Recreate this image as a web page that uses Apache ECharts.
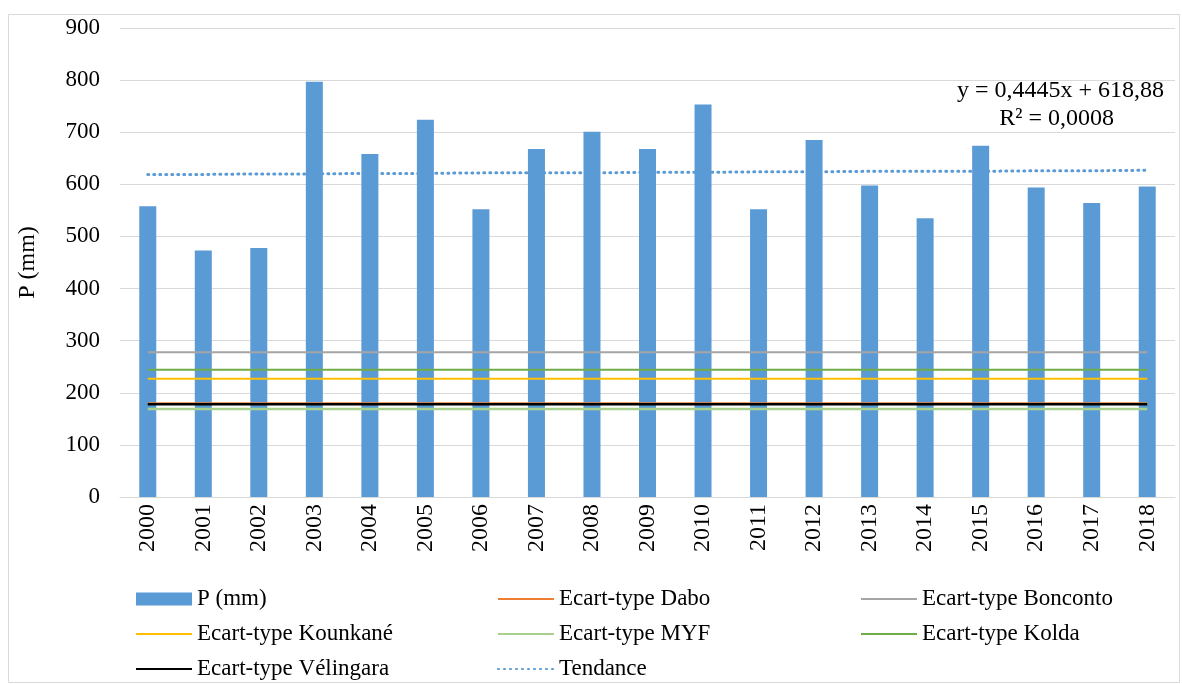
<!DOCTYPE html>
<html>
<head>
<meta charset="utf-8">
<script src="https://cdn.jsdelivr.net/npm/echarts@6/dist/echarts.min.js"></script>
<style>
  html, body { margin: 0; padding: 0; background: #fff; }
  #chart { width: 1182px; height: 684px; }
</style>
</head>
<body>
<div id="chart"></div>
<script>
// annees
var years = ['2000','2001','2002','2003','2004','2005','2006','2007','2008','2009',
             '2010','2011','2012','2013','2014','2015','2016','2017','2018'];
// pluie annuelle (mm)
var rainfall = [558, 473, 478, 797, 658, 724, 552, 668, 701, 668,
                753, 552, 685, 598, 535, 674, 594, 564, 596];
// ecarts-types par station
var sdDabo = 180;
var sdBonconto = 278;
var sdKounkane = 227;
var sdMYF = 169;
var sdKolda = 244;
var sdVelingara = 178;
// tendance
var trend = [619, 619, 620, 620, 621, 621, 622, 622, 622, 623,
             623, 624, 624, 625, 625, 625, 626, 626, 627];
var yTicks = { min: 0, max: 900, interval: 100 };

var font = 'Liberation Serif';
var chart = echarts.init(document.getElementById('chart'));

function flat(v) {
	var out = [];
	for (var i = 0; i < years.length; i++) out.push(v);
	return out;
}
function hline(name, v, color, width) {
	return {
		name: name,
		type: 'line',
		data: flat(v),
		symbol: 'none',
		lineStyle: { color: color, width: width },
		itemStyle: { color: color },
		silent: true
	};
}
// entree de legende sans symbole (ligne seule)
function lineItem(name) {
	return { name: name, itemStyle: { opacity: 0 } };
}

var legendBase = {
	orient: 'vertical',
	top: 582,
	height: 110,
	itemWidth: 56,
	itemHeight: 13,
	itemGap: 11,
	textStyle: { fontFamily: font, fontSize: 23, lineHeight: 24, color: '#000' }
};

var option = {
	backgroundColor: '#fff',
	animation: false,
	graphic: [
		{ type: 'rect', shape: { x: 8.5, y: 14.5, width: 1171, height: 668 },
		  style: { fill: 'none', stroke: '#d9d9d9', lineWidth: 1 }, silent: true },
		{ type: 'text', right: 18, top: 79,
		  style: { text: 'y = 0,4445x + 618,88', font: '24px ' + font, fill: '#000' } },
		{ type: 'text', right: 68, top: 107,
		  style: { text: 'R² = 0,0008', font: '24px ' + font, fill: '#000' } }
	],
	grid: { left: 120, right: 7, top: 28, bottom: 187 },
	legend: [
		Object.assign({}, legendBase, { left: 130,
			data: [{ name: 'P (mm)', icon: 'rect' }, lineItem('Ecart-type Kounkané'), lineItem('Ecart-type Vélingara')] }),
		Object.assign({}, legendBase, { left: 492,
			data: [lineItem('Ecart-type Dabo'), lineItem('Ecart-type MYF'), lineItem('Tendance')] }),
		Object.assign({}, legendBase, { left: 855,
			data: [lineItem('Ecart-type Bonconto'), lineItem('Ecart-type Kolda')] })
	],
	xAxis: {
		type: 'category',
		data: years,
		axisLine: { lineStyle: { color: '#d9d9d9' } },
		axisTick: { show: false },
		axisLabel: { rotate: 90, fontFamily: font, fontSize: 24, color: '#000', margin: 7 }
	},
	yAxis: {
		type: 'value',
		min: yTicks.min,
		max: yTicks.max,
		interval: yTicks.interval,
		name: 'P (mm)',
		nameLocation: 'middle',
		nameGap: 80,
		nameTextStyle: { fontFamily: font, fontSize: 24, color: '#000' },
		axisLine: { show: false },
		axisTick: { show: false },
		axisLabel: { fontFamily: font, fontSize: 23, color: '#000', margin: 20 },
		splitLine: { lineStyle: { color: '#d9d9d9', width: 1 } }
	},
	series: [
		{
			name: 'P (mm)',
			type: 'bar',
			data: rainfall,
			barWidth: 17,
			itemStyle: { color: '#5b9bd5' }
		},
		hline('Ecart-type Bonconto', sdBonconto, '#a5a5a5', 2),
		hline('Ecart-type Kolda', sdKolda, '#70ad47', 2),
		hline('Ecart-type Kounkané', sdKounkane, '#ffc000', 2),
		hline('Ecart-type Dabo', sdDabo, '#ed7d31', 2),
		hline('Ecart-type MYF', sdMYF, '#a9d18e', 2.5),
		hline('Ecart-type Vélingara', sdVelingara, '#000000', 2.5),
		{
			name: 'Tendance',
			type: 'line',
			data: trend,
			symbol: 'none',
			lineStyle: { color: '#5b9bd5', width: 3, type: [1, 5], cap: 'round' },
			itemStyle: { color: '#5b9bd5' },
			silent: true
		}
	]
};
chart.setOption(option);
</script>
</body>
</html>
